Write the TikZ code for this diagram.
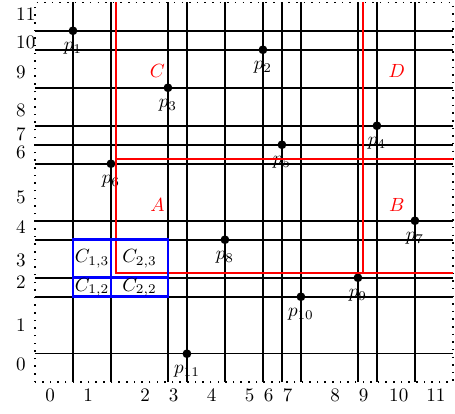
\documentclass[tikz,border=0pt]{standalone}
\usetikzlibrary{calc}

\begin{document}
\begin{tikzpicture}[x=0.35cm,y=0.35cm,
    rankline/.style={line width=0.8pt},
    dotframe/.style={line width=0.8pt,dash pattern=on 0.8pt off 3.2pt},
    split/.style={red,line width=0.9pt},
    cell/.style={blue,line width=1.5pt},
    pt/.style={circle,fill,inner sep=0pt,minimum size=4.6pt},
    region/.style={red},
]
\useasboundingbox (-1.84,-1.62) rectangle (22.11,20.12);

% Frame
\coordinate (sw) at (0,0);
\coordinate (ne) at (22,20);
\draw[dotframe] (sw) rectangle (ne);

% Points
\node[pt,label=below:$p_{1}$] (p1) at (2,18.5) {};
\node[pt,label=below:$p_{2}$] (p2) at (12,17.5) {};
\node[pt,label=below:$p_{3}$] (p3) at (7,15.5) {};
\node[pt,label=below:$p_{4}$] (p4) at (18,13.5) {};
\node[pt,label=below:$p_{5}$] (p5) at (13,12.5) {};
\node[pt,label=below:$p_{6}$] (p6) at (4,11.5) {};
\node[pt,label=below:$p_{7}$] (p7) at (20,8.5) {};
\node[pt,label=below:$p_{8}$] (p8) at (10,7.5) {};
\node[pt,label=below:$p_{9}$] (p9) at (17,5.5) {};
\node[pt,label=below:$p_{10}$] (p10) at (14,4.5) {};
\node[pt,label=below:$p_{11}$] (p11) at (8,1.5) {};

% Rank lines through every point
\foreach \p in {p1,p2,p3,p4,p5,p6,p7,p8,p9,p10,p11} {
    \draw[rankline] (\p |- sw) -- (\p |- ne);
    \draw[rankline] (\p -| sw) -- (\p -| ne);
}

% Split lines
\coordinate (r1) at ($(p6)+(0.25,0.25)$);
\coordinate (r2) at ($(p9)+(0.25,0.25)$);
\draw[split] (r1 |- ne) -- (r1 |- r2) -- (r2 -| ne);
\draw[split] (r1) -- (r1 -| ne);
\draw[split] (r2 |- ne) -- (r2);

% Regions
\node[region] (A) at (6.45,9.35) {$A$};
\node[region] (B) at (19.05,9.35) {$B$};
\node[region] (C) at (6.45,16.4) {$C$};
\node[region] (D) at (19.05,16.4) {$D$};

% Cells
\draw[cell] (p1 |- p10) rectangle (p3 |- p8);
\draw[cell] (p6 |- p10) -- (p6 |- p8);
\draw[cell] (p1 |- p9) -- (p3 |- p9);
\node (c13) at (3,6.5) {$C_{1,3}$};
\node (c23) at (5.5,6.5) {$C_{2,3}$};
\node (c12) at (3,5) {$C_{1,2}$};
\node (c22) at (5.5,5) {$C_{2,2}$};

% Ranks
\foreach \x/\t in {0.8/0,2.8/1,5.8/2,7.3/3,9.3/4,11.3/5,12.3/6,13.3/7,15.8/8,17.3/9,19.15/10,21.1/11}
    \node[below] (x\t) at (\x,0) {\t};
\foreach \y/\t in {0.93/0,2.99/1,5.27/2,6.42/3,8.17/4,9.75/5,12.12/6,13.03/7,14.31/8,16.33/9,17.9/10,19.4/11}
    \node[right] (y\t) at (-1.34,\y) {\t};
\end{tikzpicture}
\end{document}
